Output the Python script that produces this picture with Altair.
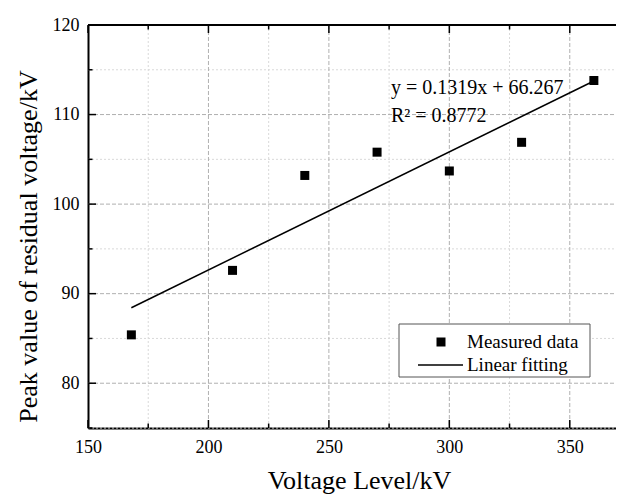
import altair as alt
import pandas as pd

# ---- data ----
volt = [168, 210, 240, 270, 300, 330, 360]
peak = [85.4, 92.6, 103.2, 105.8, 103.7, 106.9, 113.8]
slope, intercept = 0.1319, 66.267
fit_x = [168, 360]
fit_y = [slope * v + intercept for v in fit_x]
x_major = [150, 200, 250, 300, 350]
x_minor = [175, 225, 275, 325, 375]
y_major = [80, 90, 100, 110, 120]
y_minor = [75, 85, 95, 105, 115]
series = ["Measured data", "Linear fitting"]
eq_lines = ["y = 0.1319x + 66.267", "R\u00b2 = 0.8772"]

W, H = 528, 403
XR = 542
FONT = "Liberation Serif"

xs = alt.Scale(domain=[150, 375], range=[0, XR], nice=False, zero=False)
ys = alt.Scale(domain=[75, 120], nice=False, zero=False)

xaxis = alt.Axis(values=x_major, grid=False, ticks=False, domain=True,
                 domainColor="black", domainWidth=2, labelFont=FONT,
                 labelFontSize=18, labelColor="black", labelPadding=10,
                 labelFlush=False, title="Voltage Level/kV", titleFont=FONT,
                 titleFontSize=26, titleFontWeight="normal", titleColor="black",
                 titleX=271, titleY=60, titleAlign="center",
                 titleBaseline="alphabetic")
yaxis = alt.Axis(values=y_major, grid=False, ticks=False, domain=True,
                 domainColor="black", domainWidth=2, labelFont=FONT,
                 labelFontSize=18, labelColor="black", labelPadding=9,
                 labelFlush=False, title="Peak value of residual voltage/kV",
                 titleFont=FONT, titleFontSize=26, titleFontWeight="normal",
                 titleColor="black", titleAngle=270, titleX=-60, titleY=221,
                 titleAlign="center", titleBaseline="middle")

X = lambda: alt.X("v:Q", scale=xs, axis=xaxis)
Y = lambda: alt.Y("p:Q", scale=ys, axis=yaxis)


def vrules(vals, y0, y1, color, dash=None, width=1.0):
    kw = dict(color=color, strokeWidth=width)
    if dash:
        kw["strokeDash"] = dash
    return alt.Chart(pd.DataFrame({"v": vals})).mark_rule(**kw).encode(
        x=X(), y=alt.value(y0), y2=alt.value(y1))


def hrules(vals, x0, x1, color, dash=None, width=1.0):
    kw = dict(color=color, strokeWidth=width)
    if dash:
        kw["strokeDash"] = dash
    return alt.Chart(pd.DataFrame({"p": vals})).mark_rule(**kw).encode(
        y=Y(), x=alt.value(x0), x2=alt.value(x1))


one = pd.DataFrame({"a": [0]})

grid = [
    vrules(x_minor, 0, H, "#d9d9d9", [2, 2]),
    hrules(y_minor, 0, XR, "#d9d9d9", [2, 2]),
    vrules(x_major[1:], 0, H, "#b0b0b0", [4, 2]),
    hrules(y_major[:-1], 0, XR, "#b0b0b0", [4, 2]),
]

fit_line = alt.Chart(pd.DataFrame({"v": fit_x, "p": fit_y})).mark_line(
    color="black", strokeWidth=1.5).encode(x=X(), y=Y())

points = alt.Chart(pd.DataFrame({"v": volt, "p": peak})).mark_square(
    size=81, color="black", opacity=1).encode(x=X(), y=Y())

ticks = [
    vrules(x_major, H, H - 8, "black", width=1.5),
    vrules(x_minor, H, H - 4.5, "black", width=1.5),
    vrules(x_major, 0, 8, "black", width=1.5),
    vrules(x_minor, 0, 4.5, "black", width=1.5),
    hrules(y_major, 0, 8, "black", width=1.5),
    hrules(y_minor, 0, 4.5, "black", width=1.5),
]

top_spine = alt.Chart(one).mark_rule(color="black", strokeWidth=2).encode(
    x=alt.value(0), x2=alt.value(XR), y=alt.value(0))

legend_box = alt.Chart(one).mark_rect(fill="white", stroke="#555555",
                                      strokeWidth=1).encode(
    x=alt.value(311), x2=alt.value(502), y=alt.value(299), y2=alt.value(352))
legend_sq = alt.Chart(one).mark_square(size=81, color="black", opacity=1).encode(
    x=alt.value(353), y=alt.value(317))
legend_ln = alt.Chart(one).mark_rule(color="black", strokeWidth=1.5).encode(
    x=alt.value(330), x2=alt.value(375), y=alt.value(340))
legend_t1 = alt.Chart(one).mark_text(text=series[0], align="left",
                                     baseline="middle", font=FONT, fontSize=19,
                                     color="black").encode(
    x=alt.value(379), y=alt.value(317))
legend_t2 = alt.Chart(one).mark_text(text=series[1], align="left",
                                     baseline="middle", font=FONT, fontSize=19,
                                     color="black").encode(
    x=alt.value(379), y=alt.value(340))

eq1 = alt.Chart(one).mark_text(text=eq_lines[0], align="left", baseline="middle",
                               font=FONT, fontSize=20, color="black").encode(
    x=alt.value(303), y=alt.value(63))
eq2 = alt.Chart(one).mark_text(text=eq_lines[1], align="left", baseline="middle",
                               font=FONT, fontSize=20, color="black").encode(
    x=alt.value(303), y=alt.value(91))

chart = alt.layer(
    *grid, fit_line, points, legend_box, legend_sq, legend_ln, legend_t1,
    legend_t2, eq1, eq2, *ticks, top_spine
).properties(
    width=W, height=H, autosize="none",
    padding={"left": 80, "top": 17, "right": 0, "bottom": 67},
    background="white",
).configure_view(stroke=None)

chart.save("out.html", embed_options={"renderer": "svg", "actions": False})
